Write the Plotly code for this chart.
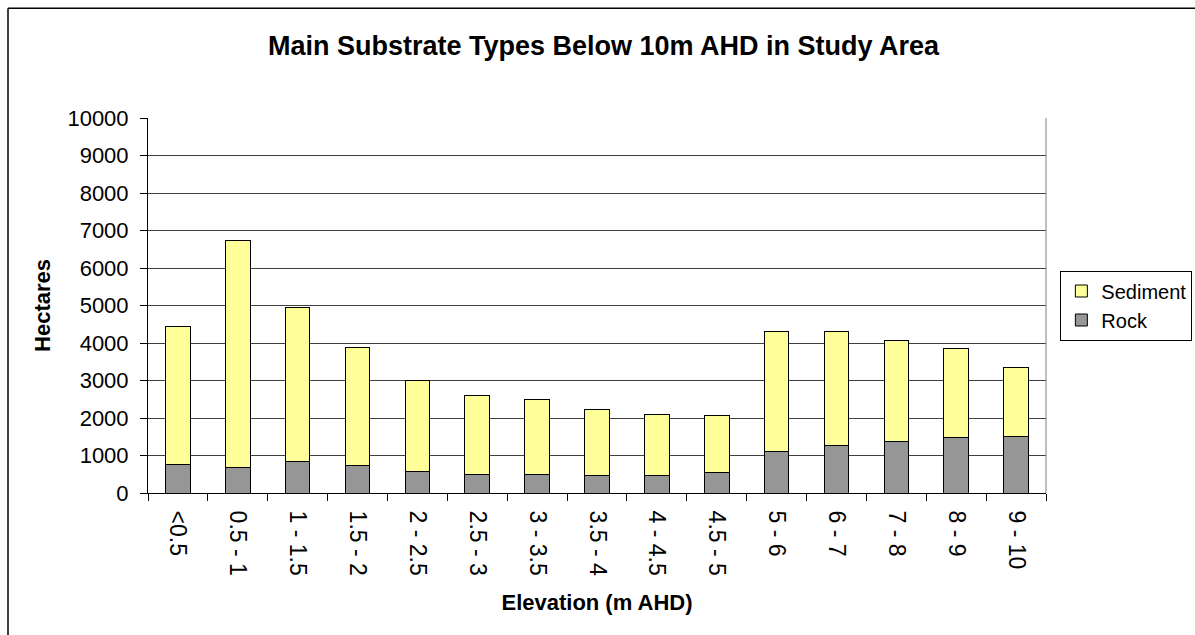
import plotly.graph_objects as go

# Elevation bands (m AHD)
elevation_bands = ["<0.5", "0.5 - 1", "1 - 1.5", "1.5 - 2", "2 - 2.5", "2.5 - 3",
                   "3 - 3.5", "3.5 - 4", "4 - 4.5", "4.5 - 5", "5 - 6", "6 - 7",
                   "7 - 8", "8 - 9", "9 - 10"]

# Area (hectares) by substrate type
rock_ha = [760, 690, 830, 725, 580, 500, 500, 465, 465, 535, 1115, 1265, 1370, 1480, 1515]
sediment_ha = [3690, 6040, 4130, 3145, 2420, 2100, 1990, 1775, 1635, 1520, 3185, 3035, 2700, 2380, 1835]

y_tick_values = [0, 1000, 2000, 3000, 4000, 5000, 6000, 7000, 8000, 9000, 10000]
y_tick_labels = ["0", "1000", "2000", "3000", "4000", "5000", "6000", "7000", "8000", "9000", "10000"]

FONT = "Arial, 'Liberation Sans', sans-serif"

fig = go.Figure()
# Rock is stacked first (bottom); Sediment listed first in the legend
fig.add_trace(go.Bar(
    name="Rock", x=elevation_bands, y=rock_ha, legendrank=2,
    marker=dict(color="#969696", line=dict(color="#000000", width=1)),
))
fig.add_trace(go.Bar(
    name="Sediment", x=elevation_bands, y=sediment_ha, legendrank=1,
    marker=dict(color="#FFFF99", line=dict(color="#000000", width=1)),
))

fig.update_layout(
    width=1195, height=635,
    margin=dict(l=148, r=149, t=118, b=141.5, pad=0, autoexpand=False),
    paper_bgcolor="white", plot_bgcolor="white",
    barmode="stack", bargap=0.59,
    font=dict(family=FONT, size=22, color="black"),
    title=dict(text="<b>Main Substrate Types Below 10m AHD in Study Area</b>",
               x=0.505, xanchor="center", y=0.929, yanchor="middle",
               font=dict(size=27, family=FONT)),
    legend=dict(traceorder="normal",
                x=1.016, xanchor="left", y=0.5, yanchor="middle",
                bordercolor="#000000", borderwidth=1, bgcolor="white",
                itemwidth=30,
                font=dict(size=20, family=FONT)),
    showlegend=True,
)

fig.update_xaxes(
    type="category", tickangle=90, tickson="boundaries",
    ticks="outside", ticklen=7, tickcolor="black",
    tickfont=dict(size=23, family=FONT),
    showline=True, linecolor="black", linewidth=1,
    showgrid=False, ticklabelstandoff=12,
    title=dict(text="<b>Elevation (m AHD)</b>", font=dict(size=22, family=FONT), standoff=19),
)
fig.update_yaxes(
    range=[0, 10000], tickvals=y_tick_values, ticktext=y_tick_labels,
    ticks="outside", ticklen=7, tickcolor="black",
    tickfont=dict(size=22, family=FONT), ticklabelstandoff=7,
    showline=True, linecolor="black", linewidth=1,
    showgrid=True, gridcolor="#404040", gridwidth=1,
    zeroline=False,
    title=dict(text="<b>Hectares</b>", font=dict(size=22, family=FONT), standoff=10),
)

# Plot-area edge on the right, chart frame on the left and top
fig.add_shape(type="line", xref="paper", yref="paper", x0=1, x1=1, y0=0, y1=1,
              line=dict(color="#808080", width=1))
fig.add_shape(type="line", xref="paper", yref="paper", x0=-0.1559, x1=-0.1559, y0=-0.5, y1=1.293,
              line=dict(color="#000000", width=1.5))
fig.add_shape(type="line", xref="paper", yref="paper", x0=-0.1559, x1=1.3, y0=1.293, y1=1.293,
              line=dict(color="#000000", width=1.5))

fig.write_html("out.html")
